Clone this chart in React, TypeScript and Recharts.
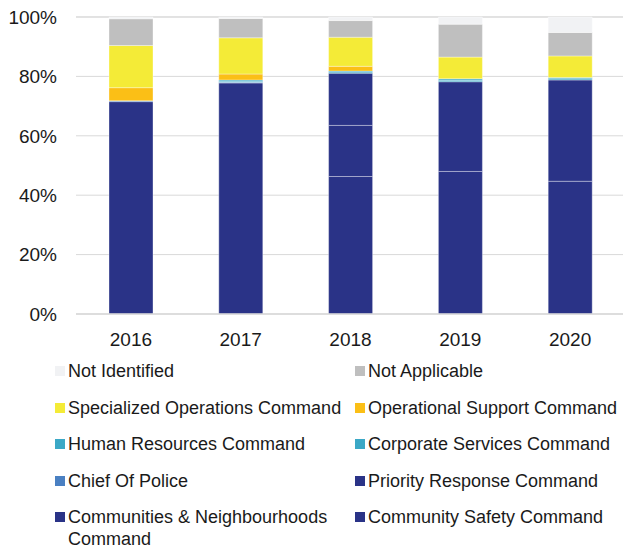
import { BarChart, Bar, XAxis, YAxis, CartesianGrid, Legend } from 'recharts';

// Years on the x axis
const years = ['2016', '2017', '2018', '2019', '2020'];

// Share of records per command (%)
const communitySafety = [71.5, 77.8, 46.3, 0, 0];
const communitiesNeighbourhoods = [0, 0, 17.2, 48.0, 44.7];
const priorityResponse = [0, 0, 17.6, 30.2, 34.1];
const chiefOfPolice = [0.3, 0.2, 0, 0, 0];
const corporateServices = [0, 0.4, 0.4, 0.5, 0.4];
const humanResources = [0, 0.4, 0.3, 0.5, 0.4];
const operationalSupport = [4.4, 2.0, 1.6, 0, 0];
const specializedOperations = [14.2, 12.2, 9.8, 7.3, 7.3];
const notApplicable = [9.0, 6.5, 5.6, 11.1, 7.9];
const notIdentified = [0.6, 0.5, 1.2, 2.4, 5.2];

const yTicks = [0, 20, 40, 60, 80, 100];

const NAVY = '#2a3387';
const TEAL = '#3ba8c6';

// stack order, bottom first
const SERIES = [
  { key: 'communitySafety', name: 'Community Safety Command', values: communitySafety, color: NAVY },
  { key: 'communitiesNeighbourhoods', name: 'Communities & Neighbourhoods Command', values: communitiesNeighbourhoods, color: NAVY },
  { key: 'priorityResponse', name: 'Priority Response Command', values: priorityResponse, color: NAVY },
  { key: 'chiefOfPolice', name: 'Chief Of Police', values: chiefOfPolice, color: '#4a80c2' },
  { key: 'corporateServices', name: 'Corporate Services Command', values: corporateServices, color: TEAL },
  { key: 'humanResources', name: 'Human Resources Command', values: humanResources, color: TEAL },
  { key: 'operationalSupport', name: 'Operational Support Command', values: operationalSupport, color: '#fbbf16' },
  { key: 'specializedOperations', name: 'Specialized Operations Command', values: specializedOperations, color: '#f4eb37' },
  { key: 'notApplicable', name: 'Not Applicable', values: notApplicable, color: '#bfbfbf' },
  { key: 'notIdentified', name: 'Not Identified', values: notIdentified, color: '#f1f2f4' },
];

// legend reads row by row, two columns
const LEGEND_ORDER = [
  'notIdentified', 'notApplicable',
  'specializedOperations', 'operationalSupport',
  'humanResources', 'corporateServices',
  'chiefOfPolice', 'priorityResponse',
  'communitiesNeighbourhoods', 'communitySafety',
];

const data = years.map((year, i) => {
  const row: Record<string, any> = { year };
  SERIES.forEach((s) => {
    row[s.key] = s.values[i];
  });
  return row;
});

const FONT = '"Liberation Sans", Arial, sans-serif';

function ChartLegend() {
  return (
    <div
      style={{
        height: 192,
        paddingTop: 6,
        boxSizing: 'border-box',
        display: 'grid',
        gridTemplateColumns: '300px 268px',
        rowGap: 14.5,
        paddingLeft: 55,
        fontFamily: FONT,
        fontSize: 18,
        lineHeight: '22px',
        color: '#1a1a1a',
        textAlign: 'left',
      }}
    >
      {LEGEND_ORDER.map((key) => {
        const s = SERIES.find((x) => x.key === key)!;
        return (
          <div key={key} style={{ display: 'flex', alignItems: 'flex-start' }}>
            <span
              style={{
                width: 10,
                height: 10,
                marginTop: 6,
                marginRight: 3,
                background: s.color,
                flexShrink: 0,
              }}
            />
            <span style={{ width: 280 }}>{s.name}</span>
          </div>
        );
      })}
    </div>
  );
}

export default function App() {
  return (
    <div style={{ position: 'absolute', left: 0, top: 0, width: 623, height: 546, background: '#fff' }}>
      <BarChart
        width={623}
        height={546}
        data={data}
        margin={{ top: 17, right: -2, left: 0, bottom: 0 }}
        barSize={44}
      >
        <CartesianGrid stroke="#d9d9d9" vertical={false} />
        <XAxis
          dataKey="year"
          height={40}
          tickLine={false}
          tickSize={0}
          tickMargin={19}
          axisLine={{ stroke: '#d9d9d9', strokeWidth: 1.5 }}
          tick={{ fill: '#1a1a1a', fontSize: 19, fontFamily: FONT }}
        />
        <YAxis
          width={76}
          domain={[0, 100]}
          ticks={yTicks}
          tickLine={false}
          tickSize={0}
          tickMargin={19}
          axisLine={false}
          tickFormatter={(v) => `${v}%`}
          tick={{ fill: '#1a1a1a', fontSize: 19, fontFamily: FONT }}
        />
        <Legend verticalAlign="bottom" content={() => <ChartLegend />} />
        {SERIES.map((s) => (
          <Bar
            key={s.key}
            dataKey={s.key}
            name={s.name}
            stackId="total"
            fill={s.color}
            stroke="#ffffff"
            strokeOpacity={0.35}
            strokeWidth={1}
            isAnimationActive={false}
          />
        ))}
      </BarChart>
    </div>
  );
}
